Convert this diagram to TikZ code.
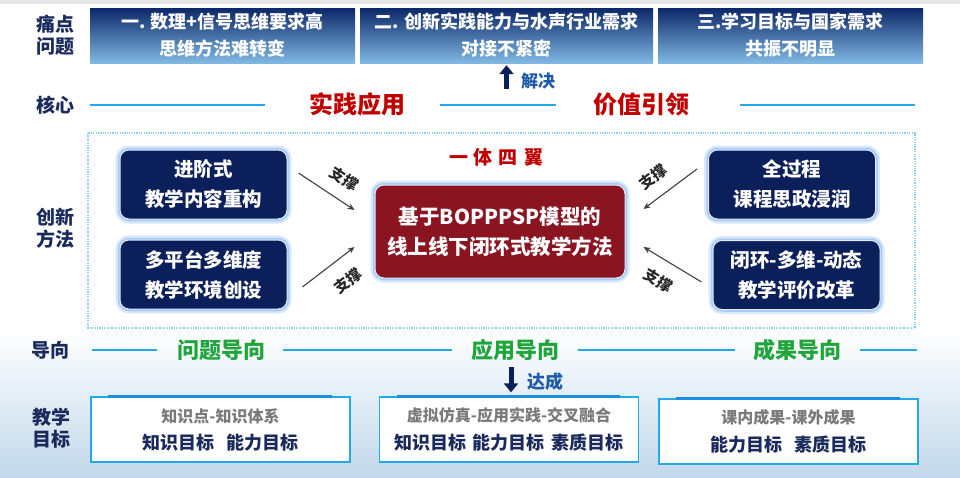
\documentclass[tikz,border=0pt]{standalone}
\usepackage{fontspec}
\setmainfont{Noto Sans CJK SC}
\usetikzlibrary{arrows.meta,positioning,calc}
\definecolor{navy}{HTML}{0B1F5B}
\definecolor{navytxt}{HTML}{1A2A5C}
\definecolor{darkred}{HTML}{8A1420}
\definecolor{painhi}{HTML}{0C2868}
\definecolor{painlo}{HTML}{80B8E3}
\definecolor{rulecyan}{HTML}{22A9EC}
\definecolor{redtxt}{HTML}{C00000}
\definecolor{greentxt}{HTML}{1FA53C}
\definecolor{bluetxt}{HTML}{1F5BA8}
\definecolor{glow}{HTML}{A9CCF5}
\definecolor{graytxt}{HTML}{7A7A7A}
\definecolor{seablue}{HTML}{C2D8EA}
\definecolor{barblue}{HTML}{1A8FE0}
\newcommand{\pxfont}[2]{\fontsize{#1}{#2}\selectfont\bfseries}

\begin{document}
\begin{tikzpicture}[x=1pt,y=-1pt,
  side/.style={text=navytxt,align=center,font=\pxfont{19}{22}},
  pain/.style={top color=painhi,bottom color=painlo,minimum height=55pt,inner sep=0pt,
    text=white,align=center,font=\pxfont{18}{27}},
  wing/.style={fill=navy,draw=white!60!glow,line width=1pt,rounded corners=9pt,
    preaction={draw=glow!45,line width=9pt},preaction={draw=glow,line width=4.5pt},
    minimum width=167pt,minimum height=69pt,text=white,align=center,font=\pxfont{19.5}{30}},
  hub/.style={wing,fill=darkred,minimum width=250pt,minimum height=93pt,font=\pxfont{20.5}{30}},
  rule/.style={rulecyan,line width=1.6pt},
  keytxt/.style={text=redtxt,font=\pxfont{24}{24}},
  guide/.style={text=greentxt,font=\pxfont{22}{22}},
  supp/.style={-{Stealth[length=7pt,width=6pt]},draw=black!75,line width=1.1pt},
  lab/.style={font=\pxfont{15}{15},text=black!85},
  fat/.style={-{Triangle[length=9pt,width=14pt]},line width=5pt,navy},
  bluelab/.style={text=bluetxt,font=\pxfont{17}{17}},
  frame/.style={draw=rulecyan!55,line width=1.2pt,dash pattern=on 1.2pt off 1.2pt},
  goal/.style={draw=rulecyan,line width=1.3pt,fill=white,minimum width=259pt,
    minimum height=65pt,align=center,text=navytxt},
  bar/.style={barblue,line width=3.5pt}]
  % background
  \useasboundingbox (0,0) rectangle (960,477);
  \fill[white] (0,0) rectangle (960,477);
  \shade[top color=white,bottom color=seablue] (0,330) rectangle (960,477);
  \fill[black!10] (0,0) rectangle (960,4);
  % row labels
  \node[side] (tdwt) at (55,35)  {痛点\\问题};
  \node[side] (hx)   at (55,105) {核心};
  \node[side] (cxff) at (55,228) {创新\\方法};
  \node[side] (dx)   at (50,350) {导向};
  \node[side] (jxmb) at (51,428) {教学\\目标};
  % pain points
  \node[pain,minimum width=265pt] (P1) at (222.5,35.5) {一. 数理+信号思维要求高\\思维方法难转变};
  \node[pain,minimum width=293pt] (P2) at (506.5,35.5) {二. 创新实践能力与水声行业需求\\对接不紧密};
  \node[pain,minimum width=265pt] (P3) at (790.5,35.5) {三.学习目标与国家需求\\共振不明显};
  \draw[fat] ([yshift=-26pt]P2.south) -- ([yshift=-2pt]P2.south);
  \node[bluelab] (jj) at (538,81) {解决};
  % core
  \node[keytxt] (sj) at (357,104) {实践应用};
  \node[keytxt] (jz) at (641,104) {价值引领};
  \draw[rule] (90,105) -- (265,105);
  \draw[rule] (440,105) -- (556,105);
  \draw[rule] (740,105) -- (915,105);
  % methods
  \draw[frame] (88,133) rectangle (915,328);
  \node[text=redtxt,font=\pxfont{19}{19}] (ytsy) at (496,157) {一\hspace{6pt}体\hspace{6pt}四\hspace{6pt}翼};
  \node[hub] (M) at (500,231.5) {基于BOPPPSP模型的\\线上线下闭环式教学方法};
  \node[wing] (A) at (203.5,184.5) {进阶式\\教学内容重构};
  \node[wing] (B) at (203.5,274.5) {多平台多维度\\教学环境创设};
  \node[wing] (C) at (792,184.5) {全过程\\课程思政浸润};
  \node[wing] (D) at (796.5,275) {闭环-多维-动态\\教学评价改革};
  \draw[supp] ($(A.east)+(11,-11.5)$) -- node[lab,pos=.62,sloped,above=9pt] {支撑} ($(M.west)+(-20,-21.5)$);
  \draw[supp] ($(B.east)+(15,12.5)$) -- node[lab,pos=.6,sloped,below=12pt] {支撑} ($(M.west)+(-20,15.5)$);
  \draw[supp] ($(C.west)+(-11,-15.5)$) -- node[lab,pos=.6,sloped,above=9pt] {支撑} ($(M.east)+(18,-22.5)$);
  \draw[supp] ($(D.west)+(-11,7)$) -- node[lab,pos=.55,sloped,below=10pt] {支撑} ($(M.east)+(18,15.5)$);
  % orientation
  \node[guide] (wtdx) at (221,350) {问题导向};
  \node[guide] (yydx) at (515,350) {应用导向};
  \node[guide] (cgdx) at (797,350) {成果导向};
  \draw[rule] (92,350) -- (157,350);
  \draw[rule] (283,350) -- (452,350);
  \draw[rule] (578,350) -- (735,350);
  \draw[rule] (860,350) -- (917,350);
  % goals
  \node[goal] (G1) at (220.5,429.5) {{\color{graytxt}\pxfont{16}{16}知识点-知识体系}\\[9pt]{\pxfont{18}{18}知识目标\hspace{12pt}能力目标}};
  \node[goal] (G2) at (509,429.5) {{\color{graytxt}\pxfont{16}{16}虚拟仿真-应用实践-交叉融合}\\[9pt]{\pxfont{18}{18}知识目标\hspace{7pt}能力目标\hspace{7pt}素质目标}};
  \node[goal] (G3) at (788.5,431.5) {{\color{graytxt}\pxfont{16}{16}课内成果-课外成果}\\[9pt]{\pxfont{18}{18}能力目标\hspace{12pt}素质目标}};
  \foreach \g in {G1,G2,G3}
    \draw[bar] ([xshift=18pt]\g.north west) -- ([xshift=-19pt]\g.north east);
  \draw[fat] ([xshift=2pt,yshift=29pt]G2.north) -- ([xshift=2pt,yshift=4pt]G2.north);
  \node[bluelab,font=\pxfont{18}{18}] (dc) at (545,382) {达成};
\end{tikzpicture}
\end{document}
